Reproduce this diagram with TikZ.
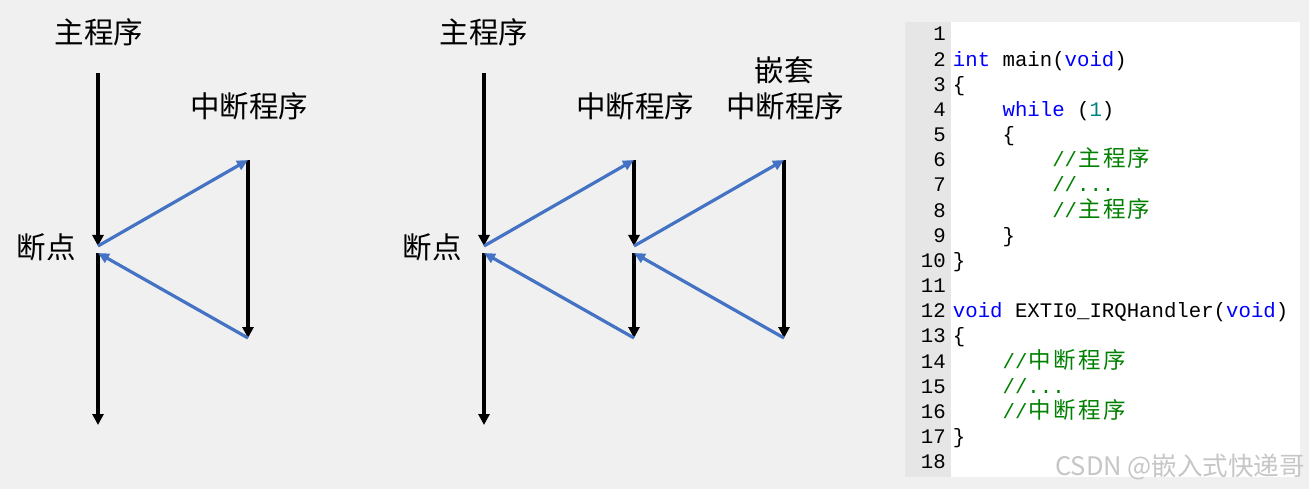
\documentclass[tikz,border=0pt]{standalone}
\usepackage{fontspec}
\usepackage{xcolor}
\usetikzlibrary{arrows.meta}
\newfontfamily\cjk{Noto Sans CJK SC}
\newfontfamily\codefont{Liberation Mono}
\definecolor{bg}{HTML}{F0F0F0}
\definecolor{gutter}{HTML}{E6E6E6}
\definecolor{flow}{HTML}{4472C4}
\definecolor{kwblue}{HTML}{0000FF}
\definecolor{cmgreen}{HTML}{008000}
\definecolor{numteal}{HTML}{008080}
\newcommand\kw[1]{\textcolor{kwblue}{#1}}
\newcommand\cmt[1]{\textcolor{cmgreen}{#1}}
\newcommand\zc[1]{\makebox[24.84pt]{\cjk\fontsize{22.5}{22.5}\selectfont #1}}

\begin{document}
\begin{tikzpicture}[x=1pt, y=-1pt,
  main line/.style={line width=3.2pt, -{Triangle[length=11pt,width=11pt]}},
  flow line/.style={flow, line width=3.2pt, -{Triangle[length=11pt,width=10pt]}},
  title/.style={font=\cjk\fontsize{29.5}{29.5}\selectfont, inner sep=0},
  src/.style={anchor=base west, inner sep=0, font=\codefont\fontsize{20.7}{20.7}\selectfont},
  lnum/.style={anchor=base east, inner sep=0, font=\codefont\fontsize{20.7}{20.7}\selectfont}]
\fill[bg] (0,0) rectangle (1309,489);
\useasboundingbox (0,0) rectangle (1309,489);

% single interrupt
\node[title] (t1) at (99,32) {主程序};
\node[title] (t2) at (249,106) {中断程序};
\node[title] (b1) at (46,247) {断点};
\coordinate (m1) at (98,73);
\coordinate (m2) at (98,246);
\coordinate (m3) at (98,253);
\coordinate (m4) at (98,425);
\coordinate (i1) at (248,160);
\coordinate (i2) at (248,338);
\draw[main line] (m1) -- (m2);
\draw[main line] (m3) -- (m4);
\draw[main line] (i1) -- (i2);
\draw[flow line] (m2) -- (i1);
\draw[flow line] (i2) -- (m3);

% nested interrupt
\node[title] (t3) at (484,32) {主程序};
\node[title] (t4) at (635,106) {中断程序};
\node[title] (t5) at (784,70) {嵌套};
\node[title] (t6) at (785,106) {中断程序};
\node[title] (b2) at (432,247) {断点};
\coordinate (n1) at (484,73);
\coordinate (n2) at (484,246);
\coordinate (n3) at (484,253);
\coordinate (n4) at (484,425);
\coordinate (j1) at (634,160);
\coordinate (j2) at (634,246);
\coordinate (j3) at (634,253);
\coordinate (j4) at (634,338);
\coordinate (k1) at (784,160);
\coordinate (k2) at (784,338);
\draw[main line] (n1) -- (n2);
\draw[main line] (n3) -- (n4);
\draw[main line] (j1) -- (j2);
\draw[main line] (j3) -- (j4);
\draw[main line] (k1) -- (k2);
\draw[flow line] (n2) -- (j1);
\draw[flow line] (j2) -- (k1);
\draw[flow line] (k2) -- (j3);
\draw[flow line] (j4) -- (n3);

% code panel
\fill[gutter] (905,22) rectangle (951,477);
\fill[white] (951,22) rectangle (1300,477);
\foreach \n in {1,...,18}
  \node[lnum] (l\n) at (946,{41+(\n-1)*25.16}) {\n};
\node[src] (c2) at (952.7,66.16) {\kw{int} main(\kw{void})};
\node[src] (c3) at (952.7,91.32) {\{};
\node[src] (c4) at (1002.4,116.48) {\kw{while} (\textcolor{numteal}{1})};
\node[src] (c5) at (1002.4,141.64) {\{};
\node[src] (c6) at (1052.1,166.8) {\cmt{//\zc{主}\zc{程}\zc{序}}};
\node[src] (c7) at (1052.1,191.96) {\cmt{//...}};
\node[src] (c8) at (1052.1,217.12) {\cmt{//\zc{主}\zc{程}\zc{序}}};
\node[src] (c9) at (1002.4,242.28) {\}};
\node[src] (c10) at (952.7,267.44) {\}};
\node[src] (c12) at (952.7,317.76) {\kw{void} EXTI0\_IRQHandler(\kw{void})};
\node[src] (c13) at (952.7,342.92) {\{};
\node[src] (c14) at (1002.4,368.08) {\cmt{//\zc{中}\zc{断}\zc{程}\zc{序}}};
\node[src] (c15) at (1002.4,393.24) {\cmt{//...}};
\node[src] (c16) at (1002.4,418.4) {\cmt{//\zc{中}\zc{断}\zc{程}\zc{序}}};
\node[src] (c17) at (952.7,443.56) {\}};
\node[anchor=east, inner sep=0, text=gray!45, font=\cjk\fontsize{25.5}{25.5}\selectfont] (wm) at (1305,467) {CSDN @嵌入式快递哥};
\end{tikzpicture}
\end{document}
